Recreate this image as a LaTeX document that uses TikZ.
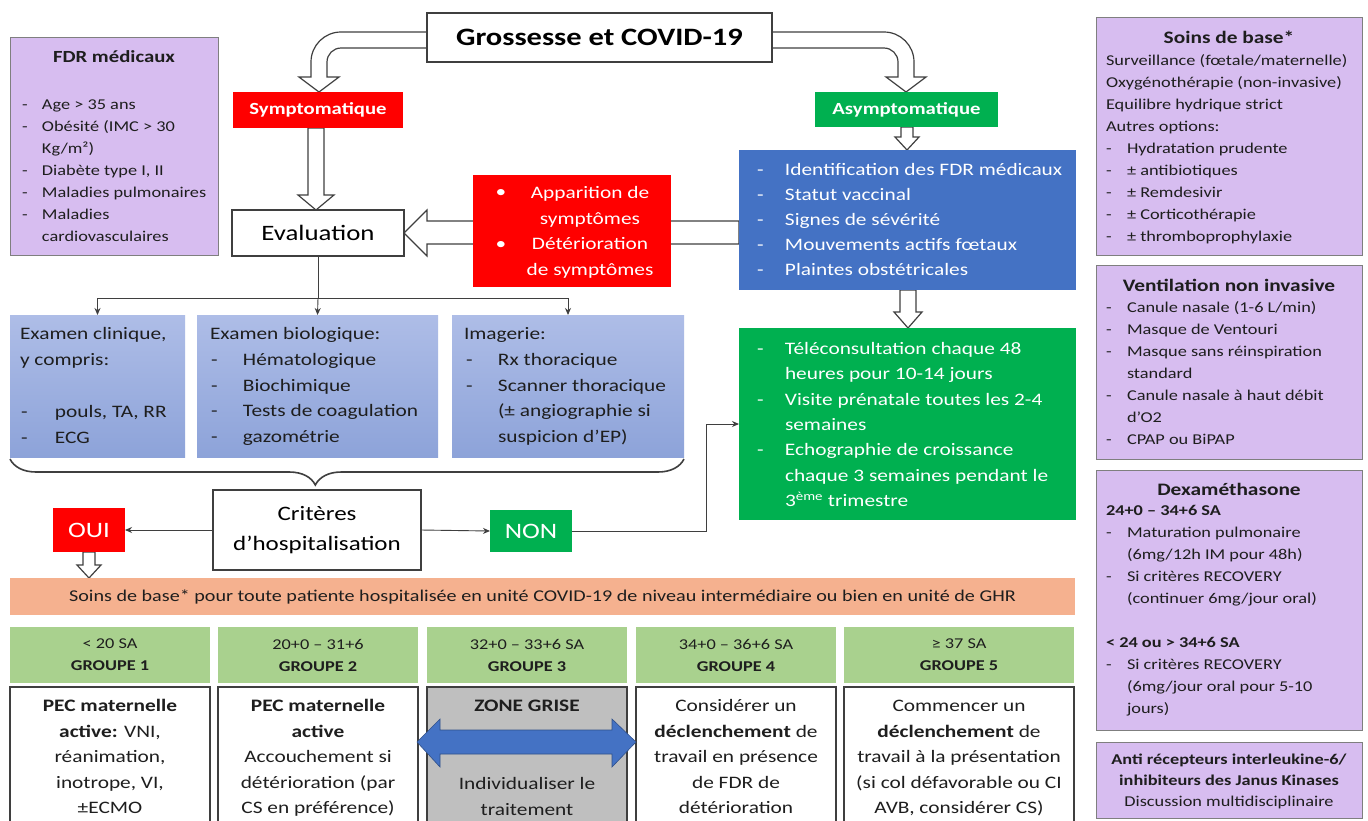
\documentclass[tikz,border=0pt]{standalone}
\usepackage{fontspec}
\setmainfont[FakeStretch=1.22]{Carlito}
\usetikzlibrary{arrows.meta,decorations.pathreplacing}
\definecolor{pur}{HTML}{D7BDF0}
\definecolor{purline}{HTML}{7F7F7F}
\definecolor{redb}{HTML}{FF0000}
\definecolor{greenb}{HTML}{00B050}
\definecolor{blueb}{HTML}{4472C4}
\definecolor{lbtop}{HTML}{AEBDE7}
\definecolor{lbbot}{HTML}{8DA3D9}
\definecolor{salmon}{HTML}{F5B18F}
\definecolor{hdr}{HTML}{A9D18E}
\definecolor{grz}{HTML}{BFBFBF}
\definecolor{dk}{HTML}{3F3F3F}
\definecolor{txt}{HTML}{1E1E1E}
\newlength\dind
\newcommand\ditem[1]{\par\hangindent=\dind\hangafter=1\noindent\makebox[\dind][l]{-}#1}
% box: [style]{name}{x1}{y1}{x2}{y2}{text}
\newcommand\bx[7][]{\node[anchor=north west,minimum width={#5-#3},minimum height={#6-#4},inner sep=0pt,outer sep=0pt,#1] (#2) at (#3,-#4) {#7};}
% left-aligned text block: [style]{name}{x}{baseline y}{text}
\newcommand\tb[5][]{\node[anchor=base west,inner sep=0pt,outer sep=0pt,#1] (#2) at (#3,-#4) {\parbox[t]{400pt}{\raggedright #5}};}
% centred text block
\newcommand\tc[5][]{\node[anchor=base,inner sep=0pt,outer sep=0pt,#1] (#2) at (#3,-#4) {\parbox[t]{300pt}{\centering #5}};}
\begin{document}
\begin{tikzpicture}[x=1pt,y=1pt,
  hol/.style={draw=dk,fill=white,line width=1.2pt,line join=miter},
  wbox/.style={draw=dk,fill=white,line width=1.3pt},
  pbox/.style={draw=purline,fill=pur,line width=1pt},
  lbox/.style={top color=lbtop,bottom color=lbbot,draw=none},
  conn/.style={draw=dk,line width=0.9pt},
  tip/.style={-{Stealth[length=7pt,width=6pt]}},
  f15/.style={font=\fontsize{15}{22}\selectfont,text=txt},
  f17/.style={font=\fontsize{17.5}{25.6}\selectfont},
  ptitle/.style={font=\fontsize{17.5}{22}\selectfont\bfseries,text=txt},
]
\useasboundingbox (0,0) rectangle (1368,-820);
\fill[white] (0,0) rectangle (1368,-820);
\clip (0,0) rectangle (1368,-820);

% ---------- hollow arrows ----------
\path[hol] (427,-32) -- (341,-32) arc[start angle=90,end angle=180,radius=30] -- (311,-77) -- (299,-77) -- (319,-92) -- (339,-77) -- (327,-77) -- (327,-62) arc[start angle=180,end angle=90,radius=14] -- (427,-48) -- cycle;
\path[hol] (772,-32) -- (884,-32) arc[start angle=90,end angle=0,radius=30] -- (914,-77) -- (926,-77) -- (906,-92) -- (886,-77) -- (898,-77) -- (898,-62) arc[start angle=0,end angle=90,radius=14] -- (772,-48) -- cycle;
\path[hol] (308,-128) -- (308,-195) -- (298,-195) -- (316,-210) -- (334,-195) -- (324,-195) -- (324,-128) -- cycle;
\path[hol] (901,-127) -- (901,-137) -- (895,-137) -- (907,-150) -- (919,-137) -- (913,-137) -- (913,-127) -- cycle;
\path[hol] (900,-290) -- (900,-312) -- (894,-312) -- (908,-328) -- (922,-312) -- (916,-312) -- (916,-290) -- cycle;
\path[hol] (83,-552) -- (83,-565) -- (77,-565) -- (89,-578) -- (101,-565) -- (95,-565) -- (95,-552) -- cycle;
\path[hol] (739,-221) -- (427,-221) -- (427,-210) -- (404,-233) -- (427,-256) -- (427,-244) -- (739,-244) -- cycle;

% ---------- top flow ----------
\bx[wbox,font=\fontsize{25}{30}\selectfont\bfseries]{title}{427}{13}{772}{62}{Grossesse et COVID-19}
\bx[fill=redb,text=white,font=\fontsize{17}{20}\selectfont\bfseries]{sym}{233}{92}{403}{128}{Symptomatique}
\bx[fill=greenb,text=white,font=\fontsize{17}{20}\selectfont\bfseries]{asym}{815}{92}{998}{127}{Asymptomatique}
\bx[wbox,font=\fontsize{22}{26}\selectfont]{eval}{232}{210}{404}{256}{Evaluation}

\bx[fill=redb]{appar}{473}{175}{671}{287}{}
\node[text=white,f17,inner sep=0pt] (b1) at (501,-193) {•};
\node[text=white,f17,inner sep=0pt] (b2) at (501,-245) {•};
\tc[text=white,f17]{apptxt}{590}{198.5}{Apparition de\\symptômes\\Détérioration\\de symptômes}

\bx[fill=blueb]{bluebox}{739}{150}{1076}{290}{}
\tb[text=white,font=\fontsize{17.5}{25}\selectfont]{bluetxt}{757}{175.5}{\setlength\dind{28pt}%
\ditem{Identification des FDR médicaux}\ditem{Statut vaccinal}\ditem{Signes de sévérité}\ditem{Mouvements actifs fœtaux}\ditem{Plaintes obstétricales}}

\bx[fill=greenb]{greenbox}{739}{328}{1076}{520}{}
\tb[text=white,font=\fontsize{17.5}{25.3}\selectfont]{greentxt}{757}{354.5}{\setlength\dind{28pt}%
\ditem{Téléconsultation chaque 48\newline heures pour 10-14 jours}\ditem{Visite prénatale toutes les 2-4\newline semaines}\ditem{Echographie de croissance\newline chaque 3 semaines pendant le\newline 3\textsuperscript{ème} trimestre}}

% ---------- examination boxes ----------
\bx[lbox]{lb1}{10}{315}{185}{457}{}
\bx[lbox]{lb2}{197}{315}{438}{457}{}
\bx[lbox]{lb3}{452}{315}{684}{457}{}
\tb[text=txt,f17]{lb1a}{20}{339.5}{Examen clinique,\newline y compris:}
\tb[text=txt,f17]{lb1b}{21}{417.5}{\setlength\dind{34pt}\ditem{pouls, TA, RR}\ditem{ECG}}
\tb[text=txt,f17]{lb2a}{210}{339.5}{Examen biologique:}
\tb[text=txt,f17]{lb2b}{211}{365.5}{\setlength\dind{32pt}\ditem{Hématologique}\ditem{Biochimique}\ditem{Tests de coagulation}\ditem{gazométrie}}
\tb[text=txt,f17]{lb3a}{464}{339.5}{Imagerie:}
\tb[text=txt,f17]{lb3b}{466}{365.5}{\setlength\dind{32pt}\ditem{Rx thoracique}\ditem{Scanner thoracique\newline(± angiographie si\newline suspicion d’EP)}}

\coordinate (hb) at (318,-298);
\draw[conn] (eval.south) -- (hb);
\draw[conn,tip] (hb) -| (lb1.north);
\draw[conn,tip] (hb) -- (lb2.north);
\draw[conn,tip] (hb) -| (lb3.north);

\draw[dk,line width=1.6pt,decorate,decoration={brace,mirror,amplitude=26pt,aspect=0.453}] (10,-459) -- (684,-459);

\bx[wbox,font=\fontsize{20.5}{30}\selectfont,align=center]{crit}{213}{490}{421}{570}{Critères\\d’hospitalisation}
\bx[fill=redb,text=white,font=\fontsize{22}{26}\selectfont]{oui}{53}{508}{125}{552}{OUI}
\bx[fill=greenb,text=white,font=\fontsize{22}{26}\selectfont]{non}{490}{510}{572}{552}{NON}
\draw[conn,tip] (crit.west) -- (oui.east);
\draw[conn,tip] (crit.east) -- (non.west);
\coordinate (nb) at (706,-531);
\draw[conn,tip] (non.east) -- (nb) |- (greenbox.west);

\bx[fill=salmon,font=\fontsize{16.5}{20}\selectfont,text=txt]{soins}{10}{578}{1075}{615}{Soins de base* pour toute patiente hospitalisée en unité COVID-19 de niveau intermédiaire ou bien en unité de GHR}

% ---------- groups ----------
\bx[fill=hdr,f15,align=center]{h1}{10}{627}{210}{683}{< 20 SA\\\textbf{GROUPE 1}}
\bx[fill=hdr,f15,align=center]{h2}{218}{627}{418}{683}{20+0 – 31+6\\\textbf{GROUPE 2}}
\bx[fill=hdr,f15,align=center]{h3}{427}{627}{627}{683}{32+0 – 33+6 SA\\\textbf{GROUPE 3}}
\bx[fill=hdr,f15,align=center]{h4}{636}{627}{836}{683}{34+0 – 36+6 SA\\\textbf{GROUPE 4}}
\bx[fill=hdr,f15,align=center]{h5}{844}{627}{1074}{683}{≥ 37 SA\\\textbf{GROUPE 5}}

\bx[wbox]{g1}{10}{687}{210}{840}{}
\bx[wbox]{g2}{218}{687}{418}{840}{}
\bx[wbox,fill=grz]{g3}{427}{687}{627}{840}{}
\bx[wbox]{g4}{636}{687}{836}{840}{}
\bx[wbox]{g5}{844}{687}{1074}{840}{}

\tc[text=txt,f17]{g1t}{110}{711.5}{\textbf{PEC maternelle}\\\textbf{active:} VNI,\\réanimation,\\inotrope, VI,\\±ECMO}
\tc[text=txt,f17]{g2t}{318}{711.5}{\textbf{PEC maternelle}\\\textbf{active}\\Accouchement si\\détérioration (par\\CS en préférence)}
\tc[text=txt,f17]{g3t}{527}{711.5}{\textbf{ZONE GRISE}}
\tc[text=txt,f17]{g3b}{527}{789.5}{Individualiser le\\traitement}
\tc[text=txt,f17]{g4t}{736}{711.5}{Considérer un\\\textbf{déclenchement} de\\travail en présence\\de FDR de\\détérioration}
\tc[text=txt,f17]{g5t}{959}{711.5}{Commencer un\\\textbf{déclenchement} de\\travail à la présentation\\(si col défavorable ou CI\\AVB, considérer CS)}

\path[fill=blueb,draw=blueb!70!black,line width=0.6pt] (417,-742) -- (440,-719) -- (440,-730) -- (612,-730) -- (612,-719) -- (636,-742) -- (612,-767) -- (612,-754) -- (440,-754) -- (440,-767) -- cycle;

% ---------- purple boxes ----------
\bx[pbox]{fdr}{10}{37}{218}{255}{}
\tc[ptitle,font=\fontsize{17}{22}\selectfont\bfseries]{fdrT}{114}{62}{FDR médicaux}
\tb[f15]{fdrL}{22}{109.5}{\setlength\dind{20pt}%
\ditem{Age > 35 ans}\ditem{Obésité (IMC > 30\newline Kg/m²)}\ditem{Diabète type I, II}\ditem{Maladies pulmonaires}\ditem{Maladies\newline cardiovasculaires}}

\bx[pbox]{sb}{1096}{17}{1362}{255}{}
\tc[ptitle]{sbT}{1229}{43.5}{Soins de base*}
\tb[f15]{sbL}{1106}{65.5}{\setlength\dind{21pt}%
Surveillance (fœtale/maternelle)\par Oxygénothérapie (non-invasive)\par Equilibre hydrique strict\par Autres options:%
\ditem{Hydratation prudente}\ditem{± antibiotiques}\ditem{± Remdesivir}\ditem{± Corticothérapie}\ditem{± thromboprophylaxie}}

\bx[pbox]{vni}{1096}{265}{1362}{459}{}
\tc[ptitle]{vniT}{1229}{291.5}{Ventilation non invasive}
\tb[f15]{vniL}{1106}{312.5}{\setlength\dind{21pt}%
\ditem{Canule nasale (1-6 L/min)}\ditem{Masque de Ventouri}\ditem{Masque sans réinspiration\newline standard}\ditem{Canule nasale à haut débit\newline d’O2}\ditem{CPAP ou BiPAP}}

\bx[pbox]{dexa}{1096}{470}{1362}{730}{}
\tc[ptitle]{dexaT}{1229}{495.5}{Dexaméthasone}
\tb[f15]{dexaL}{1106}{515.5}{\setlength\dind{21pt}%
\textbf{24+0 – 34+6 SA}\ditem{Maturation pulmonaire\newline(6mg/12h IM pour 48h)}\ditem{Si critères RECOVERY\newline(continuer 6mg/jour oral)}\par\vspace{22pt}\noindent\textbf{< 24 ou > 34+6 SA}\ditem{Si critères RECOVERY\newline(6mg/jour oral pour 5-10\newline jours)}}

\bx[pbox]{anti}{1096}{742}{1362}{818}{}
\tc[f15,font=\fontsize{15}{21}\selectfont]{antiT}{1229}{764.5}{\textbf{Anti récepteurs interleukine-6/}\\\textbf{inhibiteurs des Janus Kinases}\\Discussion multidisciplinaire}
\end{tikzpicture}
\end{document}
